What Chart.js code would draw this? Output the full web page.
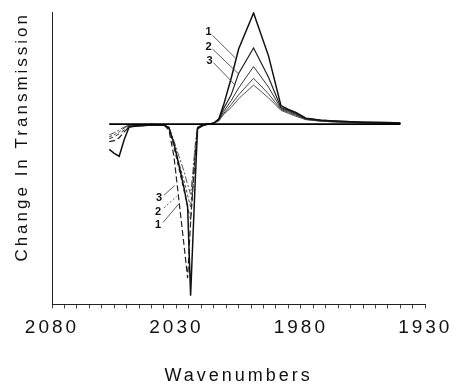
<!DOCTYPE html>
<html>
<head>
<meta charset="utf-8">
<script src="https://cdn.jsdelivr.net/npm/chart.js@4"></script>
<style>
  html, body { margin: 0; padding: 0; background: #fff; }
  #wrap { width: 460px; height: 385px; }
</style>
</head>
<body>
<div id="wrap"><canvas id="irChart"></canvas></div>
<script>
/* global Chart */

// wavenumbers (cm-1)
const wavenumbers = [2057, 2055, 2053, 2051, 2049, 2045, 2040, 2035, 2033, 2031, 2029, 2027, 2025.5, 2024.3, 2023.5, 2022.5, 2021.5, 2019, 2015, 2013, 2011, 2008, 2005, 1999, 1993, 1988, 1985, 1982, 1978, 1972, 1965, 1955, 1945, 1940];

// change in transmission, arbitrary units (baseline = 0)
const run1 = [-26, -30, -33, -16, -3, -1, -1, -1, -4, -20, -42, -65, -85, -176, -125, -62, -4, -1, 1, 5, 20, 47, 77, 114, 70, 19, 15, 12, 6, 4, 3, 2, 1.5, 1];
const run2 = [-18, -17, -14, -8, -3, -2, -1, -1, -6, -33, -78, -123, -158, -100, -70, -35, -5, -1, 1, 5, 16, 30, 52, 78, 48, 17, 14, 11, 6, 4, 3, 2, 1.5, 1];
const run3 = [-15, -13, -10, -6, -2, -2, -1, -1, -4, -24, -46, -68, -85, -98, -70, -32, -4, -1, 1, 4, 13, 24, 37, 59, 38, 16, 13, 10, 5, 3.5, 2.5, 1.5, 1, 0.5];
const run4 = [-13, -11, -8, -4, -1, -1, -1, -1, -3, -20, -40, -58, -73, -85, -62, -27, -3, -1, 1, 4, 11, 20, 30, 47, 31, 15, 12, 9, 5, 3, 2, 1.5, 1, 0.5];
const run5 = [-11, -9, -6, -3, -1, -1, 0, -1, -3, -17, -33, -48, -62, -72, -52, -22, -3, 0, 1, 3, 10, 17, 26, 40, 27, 14, 11, 8, 4.5, 3, 2, 1, 0.5, 0.5];

const baselineX = [2057, 1940];
const baselineY = [0, 0];

const xTickLabels = [2080, 2030, 1980, 1930];

const FONT = "'Liberation Sans', Arial, Helvetica, sans-serif";

function toPoints(xs, ys) {
  return xs.map((x, i) => ({ x, y: ys[i] }));
}

// dashed only where the trace goes into the negative band
function dipDash(dash) {
  return (ctx) => ((ctx.p0.parsed.y < -5 || ctx.p1.parsed.y < -5) ? dash : undefined);
}

// little number labels with leader lines, in data units
const curveLabels = [
  { text: '1', at: [2017.1, 94], from: [2015.5, 91], to: [2006.4, 68] },
  { text: '2', at: [2017.1, 79], from: [2015.5, 77], to: [2004.8, 51] },
  { text: '3', at: [2016.7, 65], from: [2015.1, 63], to: [2006.4, 40] },
  { text: '3', at: [2037.0, -76], from: [2035.0, -73], to: [2030.7, -63] },
  { text: '2', at: [2037.4, -90], from: [2035.0, -86], to: [2029.9, -74], dash: [2, 2] },
  { text: '1', at: [2037.4, -104], from: [2035.4, -101], to: [2029.1, -82] },
];

const spacingPlugin = {
  id: 'spacing',
  beforeLayout(chart) { chart.ctx.letterSpacing = '3px'; },
  beforeDraw(chart) { chart.ctx.letterSpacing = '3px'; },
};

const labelPlugin = {
  id: 'curveLabels',
  afterDatasetsDraw(chart) {
    const { ctx, scales: { x, y } } = chart;
    ctx.save();
    ctx.letterSpacing = '0px';
    ctx.strokeStyle = '#333';
    ctx.lineWidth = 0.8;
    ctx.fillStyle = '#111';
    ctx.font = `bold 11px ${FONT}`;
    ctx.textAlign = 'center';
    ctx.textBaseline = 'middle';
    curveLabels.forEach((l) => {
      ctx.setLineDash(l.dash || []);
      ctx.beginPath();
      ctx.moveTo(x.getPixelForValue(l.from[0]), y.getPixelForValue(l.from[1]));
      ctx.lineTo(x.getPixelForValue(l.to[0]), y.getPixelForValue(l.to[1]));
      ctx.stroke();
      ctx.fillText(l.text, x.getPixelForValue(l.at[0]), y.getPixelForValue(l.at[1]));
    });
    ctx.restore();
  },
};

const ctx = document.getElementById('irChart');
const irChart = new Chart(ctx, {
  type: 'line',
  data: {
    datasets: [
      {
        label: 'baseline',
        data: toPoints(baselineX, baselineY),
        borderColor: '#000',
        borderWidth: 1.6,
        order: 0,
      },
      {
        label: '1',
        data: toPoints(wavenumbers, run1),
        borderColor: '#111',
        borderWidth: 1.5,
        order: 1,
      },
      {
        label: '2',
        data: toPoints(wavenumbers, run2),
        borderColor: '#222',
        borderWidth: 1.2,
        segment: { borderDash: dipDash([6, 3]) },
        order: 2,
      },
      {
        label: '3',
        data: toPoints(wavenumbers, run3),
        borderColor: '#333',
        borderWidth: 1,
        segment: { borderDash: dipDash([4, 3]) },
        order: 3,
      },
      {
        label: '4',
        data: toPoints(wavenumbers, run4),
        borderColor: '#444',
        borderWidth: 1,
        segment: { borderDash: dipDash([3, 2]) },
        order: 4,
      },
      {
        label: '5',
        data: toPoints(wavenumbers, run5),
        borderColor: '#555',
        borderWidth: 1,
        segment: { borderDash: dipDash([7, 2, 2, 2]) },
        order: 5,
      },
    ],
  },
  options: {
    responsive: true,
    maintainAspectRatio: false,
    animation: false,
    layout: {
      padding: {
        left: 7.8, right: 31, top: 12, bottom: 0,
      },
    },
    elements: {
      point: { radius: 0 },
      line: { tension: 0, fill: false },
    },
    plugins: {
      legend: { display: false },
      tooltip: { enabled: false },
    },
    scales: {
      x: {
        type: 'linear',
        reverse: true,
        min: 1930,
        max: 2080,
        ticks: {
          stepSize: 5,
          maxTicksLimit: 100,
          autoSkip: false,
          maxRotation: 0,
          minRotation: 0,
          padding: 7.6,
          color: '#111',
          font: { family: FONT, size: 19 },
          callback: (v) => (xTickLabels.includes(Math.round(v)) ? String(Math.round(v)) : ''),
        },
        grid: {
          drawOnChartArea: false,
          drawTicks: true,
          tickLength: 4,
          color: '#444',
        },
        border: { display: true, color: '#222', width: 1 },
        title: {
          display: true,
          text: 'Wavenumbers',
          color: '#111',
          font: { family: FONT, size: 18, lineHeight: 1 },
          padding: { top: 20.6, bottom: 0 },
        },
      },
      y: {
        type: 'linear',
        min: -185,
        max: 115,
        ticks: { display: false },
        grid: { display: false, drawTicks: false },
        border: { display: true, color: '#222', width: 1 },
        title: {
          display: true,
          text: 'Change In Transmission',
          align: 'end',
          color: '#111',
          font: { family: FONT, size: 17 },
          padding: { top: 4, bottom: 19.8 },
        },
      },
    },
  },
  plugins: [spacingPlugin, labelPlugin],
});
</script>
</body>
</html>
